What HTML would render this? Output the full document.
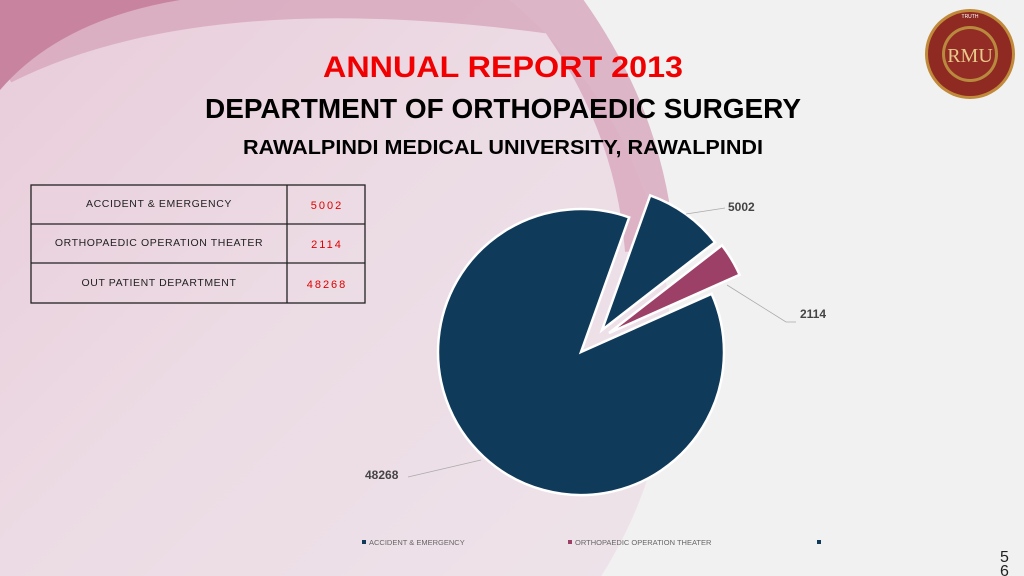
<!DOCTYPE html>
<html><head><meta charset="utf-8"><style>
html,body{margin:0;padding:0;width:1024px;height:576px;overflow:hidden;background:#f1f1f1;}
svg{display:block;font-family:"Liberation Sans",sans-serif;}
</style></head><body>
<svg width="1024" height="576" viewBox="0 0 1024 576" style="position:absolute;left:0;top:0">
<defs>
<linearGradient id="bg" x1="0" y1="0" x2="1" y2="1">
<stop offset="0" stop-color="#e6c3d3"/><stop offset="0.5" stop-color="#ecdbe4"/><stop offset="1" stop-color="#efe6ec"/>
</linearGradient>
</defs>
<rect width="1024" height="576" fill="#f1f1f1"/>
<circle cx="230" cy="340" r="440" fill="url(#bg)"/>
<path d="M0,60 Q200,-40 560,10 Q640,120 650,250" fill="none" stroke="#d7a6bc" stroke-width="50" opacity="0.8"/>
<path d="M0,0 L180,0 Q60,20 0,90 Z" fill="#c8849f"/>

<text x="503" y="77" text-anchor="middle" font-size="30" font-weight="bold" fill="#f00000" textLength="360" lengthAdjust="spacingAndGlyphs">ANNUAL REPORT 2013</text>
<text x="503" y="118" text-anchor="middle" font-size="28" font-weight="bold" fill="#000" textLength="596" lengthAdjust="spacingAndGlyphs">DEPARTMENT OF ORTHOPAEDIC SURGERY</text>
<text x="503" y="154" text-anchor="middle" font-size="20" font-weight="bold" fill="#000" textLength="520" lengthAdjust="spacingAndGlyphs">RAWALPINDI MEDICAL UNIVERSITY, RAWALPINDI</text>

<g stroke="#222" stroke-width="1.3" fill="none">
<rect x="31" y="185" width="334" height="118"/>
<line x1="287" y1="185" x2="287" y2="303"/>
<line x1="31" y1="224" x2="365" y2="224"/>
<line x1="31" y1="263" x2="365" y2="263"/>
</g>
<g font-size="10.5" fill="#222" text-anchor="middle" letter-spacing="0.6">
<text x="159" y="207">ACCIDENT &amp; EMERGENCY</text>
<text x="159" y="246">ORTHOPAEDIC OPERATION THEATER</text>
<text x="159" y="286">OUT PATIENT DEPARTMENT</text>
</g>
<g font-size="11" fill="#e00000" text-anchor="middle" letter-spacing="2">
<text x="327" y="209">5002</text>
<text x="327" y="248">2114</text>
<text x="327" y="288">48268</text>
</g>

<g stroke="#fff" stroke-width="2.5">
<path d="M581,352 L711.6,293.8 A143,143 0 1 1 629.2,217.4 Z" fill="#0f3a5a"/>
<path d="M602,330 L650.2,195.4 A143,143 0 0 1 715,242.3 Z" fill="#0f3a5a"/>
<path d="M609,333 L722,245.3 A143,143 0 0 1 739.6,274.8 Z" fill="#9c4068"/>
</g>
<g stroke="#aaa" stroke-width="0.8" fill="none">
<polyline points="686,214 725,208"/>
<polyline points="727,285 786,322 796,322"/>
<polyline points="481,460 408,477"/>
</g>
<g font-size="12" font-weight="bold" fill="#444">
<text x="728" y="211">5002</text>
<text x="800" y="318">2114</text>
<text x="365" y="479">48268</text>
</g>

<g font-size="7.5" fill="#666">
<rect x="362" y="540" width="4" height="4" fill="#0f3a5a"/>
<text x="369" y="545">ACCIDENT &amp; EMERGENCY</text>
<rect x="568" y="540" width="4" height="4" fill="#9c4068"/>
<text x="575" y="545">ORTHOPAEDIC OPERATION THEATER</text>
<rect x="817" y="540" width="4" height="4" fill="#0f3a5a"/>
</g>

<g>
<circle cx="970" cy="54" r="45" fill="#c08a3a"/>
<circle cx="970" cy="54" r="42" fill="#8e2a22"/>
<circle cx="970" cy="54" r="28" fill="#b9893e"/>
<circle cx="970" cy="54" r="25" fill="#922c24"/>
<text x="970" y="62" text-anchor="middle" font-family="Liberation Serif,serif" font-size="20" fill="#e8c98a">RMU</text>
<text x="970" y="18" text-anchor="middle" font-size="5" fill="#fff">TRUTH</text>
</g>
<text x="1000" y="562" font-size="16" fill="#222">5</text>
<text x="1000" y="576" font-size="16" fill="#222">6</text>
</svg>
</body></html>
